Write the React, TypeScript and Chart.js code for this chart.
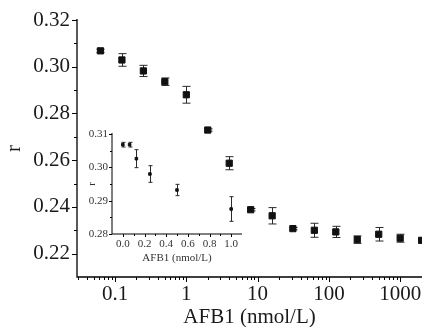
import React, { useEffect, useRef } from 'react';
import { Chart, registerables } from 'chart.js';

Chart.register(...registerables);

// ---- data ----
const concentrations = [0.0625, 0.125, 0.25, 0.5, 1, 2, 4, 8, 16, 31.25, 62.5, 125, 250, 500, 1000, 2000];
const rValues = [0.3068, 0.3029, 0.2982, 0.2936, 0.288, 0.2729, 0.2587, 0.2388, 0.2362, 0.2307, 0.23, 0.2293, 0.226, 0.2283, 0.2266, 0.2257];
const rErrors = [0.0007, 0.0027, 0.0024, 0.0016, 0.0036, 0.0005, 0.0028, 0.0005, 0.0035, 0.0005, 0.003, 0.0024, 0.0016, 0.0029, 0.0017, 0.0008];

const insetConc = [0, 0.0625, 0.125, 0.25, 0.5, 1.0];
const insetR = [0.3068, 0.3068, 0.3026, 0.298, 0.2932, 0.2875];
const insetErr = [0.0007, 0.0007, 0.0027, 0.0025, 0.0017, 0.0037];

const mainYMajor = [0.22, 0.24, 0.26, 0.28, 0.3, 0.32];
const mainYMinor = [0.23, 0.25, 0.27, 0.29, 0.31];
const mainXMajor = [0.1, 1, 10, 100, 1000];
const insetXMajor = [0, 0.2, 0.4, 0.6, 0.8, 1.0];
const insetXMinor = [0.1, 0.3, 0.5, 0.7, 0.9];
const insetYMajor = [0.28, 0.29, 0.3, 0.31];
const insetYMinor = [0.285, 0.295, 0.305];

const FONT = "'Liberation Serif', 'Times New Roman', serif";
const TEXT = '#1a1a1a';

function logMinorTicks(min: number, max: number): number[] {
  const out: number[] = [];
  for (let n = -3; n <= 4; n++) {
    for (let k = 2; k <= 9; k++) {
      const v = k * Math.pow(10, n);
      if (v > min && v < max) out.push(v);
    }
  }
  return out;
}

interface DecorCfg {
  xs: number[]; ys: number[]; errs: number[]; cap: number;
  xMajor: number[]; xMinor: number[]; yMajor: number[]; yMinor: number[];
  majorLen: number; minorLen: number; axisWidth: number;
}

function decorPlugin(id: string, cfg: DecorCfg) {
  return {
    id,
    beforeDatasetsDraw(chart: any) {
      const { ctx, scales } = chart;
      const x = scales.x, y = scales.y;
      ctx.save();
      ctx.strokeStyle = '#2a2a2a';
      ctx.lineWidth = 1;
      cfg.xs.forEach((xv, i) => {
        const px = Math.round(x.getPixelForValue(xv)) + 0.5;
        const t = y.getPixelForValue(cfg.ys[i] + cfg.errs[i]);
        const b = y.getPixelForValue(cfg.ys[i] - cfg.errs[i]);
        ctx.beginPath();
        ctx.moveTo(px, t); ctx.lineTo(px, b);
        ctx.moveTo(px - cfg.cap, t); ctx.lineTo(px + cfg.cap, t);
        ctx.moveTo(px - cfg.cap, b); ctx.lineTo(px + cfg.cap, b);
        ctx.stroke();
      });
      ctx.restore();
    },
    afterDraw(chart: any) {
      const { ctx, chartArea, scales } = chart;
      const { left, right, top, bottom } = chartArea;
      const x = scales.x, y = scales.y;
      ctx.save();
      ctx.strokeStyle = '#000';
      ctx.lineWidth = cfg.axisWidth;
      ctx.beginPath();
      ctx.moveTo(left, top - 1);
      ctx.lineTo(left, bottom);
      ctx.lineTo(right, bottom);
      ctx.stroke();
      ctx.lineWidth = 1;
      ctx.beginPath();
      const xt = (v: number, len: number) => {
        const px = Math.round(x.getPixelForValue(v)) + 0.5;
        ctx.moveTo(px, bottom); ctx.lineTo(px, bottom + len);
      };
      const yt = (v: number, len: number) => {
        const py = Math.round(y.getPixelForValue(v)) + 0.5;
        ctx.moveTo(left, py); ctx.lineTo(left - len, py);
      };
      cfg.xMajor.forEach(v => xt(v, cfg.majorLen));
      cfg.xMinor.forEach(v => xt(v, cfg.minorLen));
      cfg.yMajor.forEach(v => yt(v, cfg.majorLen));
      cfg.yMinor.forEach(v => yt(v, cfg.minorLen));
      ctx.stroke();
      ctx.restore();
    },
  };
}

const MAIN_XMIN = 0.0293;
const MAIN_XMAX = 2023;

export default function App() {
  const mainRef = useRef<HTMLCanvasElement>(null);
  const insetRef = useRef<HTMLCanvasElement>(null);

  useEffect(() => {
    document.body.style.margin = '0';
    const mainChart = new Chart(mainRef.current as HTMLCanvasElement, {
      type: 'scatter',
      data: {
        datasets: [{
          data: concentrations.map((c, i) => ({ x: c, y: rValues[i] })),
          pointStyle: 'rect',
          pointRadius: 4.4,
          backgroundColor: '#111',
          borderColor: '#111',
          borderWidth: 1,
          showLine: false,
          clip: false,
        }],
      },
      options: {
        animation: false,
        responsive: false,
        events: [],
        layout: { autoPadding: false, padding: { top: 20, right: 0, left: 0, bottom: 0 } },
        plugins: { legend: { display: false }, tooltip: { enabled: false } },
        scales: {
          x: {
            type: 'logarithmic',
            min: MAIN_XMIN,
            max: MAIN_XMAX,
            grid: { display: false, drawTicks: false },
            border: { display: false },
            ticks: {
              autoSkip: false,
              maxRotation: 0,
              padding: 5,
              color: TEXT,
              font: { family: FONT, size: 21 },
              callback: (v: any) => {
                const val = Number(v);
                const l = Math.log10(val);
                if (Math.abs(l - Math.round(l)) < 1e-6 && mainXMajor.some(m => Math.abs(m - val) / m < 1e-6)) {
                  return val >= 1 ? String(Math.round(val)) : String(Number(val.toPrecision(3)));
                }
                return '';
              },
            },
            title: {
              display: true,
              text: 'AFB1 (nmol/L)',
              color: TEXT,
              font: { family: FONT, size: 21, lineHeight: 1 },
              padding: { top: 0, bottom: -1 },
            },
            afterFit: (s: any) => { s.height = 50; s.paddingLeft = 0; s.paddingRight = 0; },
          },
          y: {
            type: 'linear',
            min: 0.21,
            max: 0.32,
            grid: { display: false, drawTicks: false },
            border: { display: false },
            ticks: {
              stepSize: 0.01,
              autoSkip: false,
              padding: 7,
              color: TEXT,
              font: { family: FONT, size: 21 },
              callback: (v: any) => {
                const n = Math.round(Number(v) * 100);
                return n % 2 === 0 && n >= 22 ? (n / 100).toFixed(2) : '';
              },
            },
            title: {
              display: true,
              text: 'r',
              color: TEXT,
              font: { family: FONT, size: 21, lineHeight: 1 },
              padding: { top: 4, bottom: 0 },
            },
            afterFit: (s: any) => { s.width = 77; s.paddingTop = 0; s.paddingBottom = 0; },
          },
        },
      },
      plugins: [decorPlugin('mainDecor', {
        xs: concentrations, ys: rValues, errs: rErrors, cap: 4,
        xMajor: mainXMajor, xMinor: logMinorTicks(MAIN_XMIN, MAIN_XMAX),
        yMajor: mainYMajor, yMinor: mainYMinor,
        majorLen: 5, minorLen: 3, axisWidth: 1.3,
      })],
    } as any);

    const insetChart = new Chart(insetRef.current as HTMLCanvasElement, {
      type: 'scatter',
      data: {
        datasets: [{
          data: insetConc.map((c, i) => ({ x: c, y: insetR[i] })),
          pointStyle: 'rect',
          pointRadius: 1.8,
          backgroundColor: '#111',
          borderColor: '#111',
          borderWidth: 1,
          showLine: false,
          clip: false,
        }],
      },
      options: {
        animation: false,
        responsive: false,
        events: [],
        layout: { autoPadding: false, padding: { top: 14, right: 18, left: 0, bottom: 0 } },
        plugins: { legend: { display: false }, tooltip: { enabled: false } },
        scales: {
          x: {
            type: 'linear',
            min: -0.1,
            max: 1.1,
            grid: { display: false, drawTicks: false },
            border: { display: false },
            ticks: {
              stepSize: 0.1,
              autoSkip: false,
              maxRotation: 0,
              padding: 4,
              color: '#333',
              font: { family: FONT, size: 11 },
              callback: (v: any) => {
                const n = Math.round(Number(v) * 10);
                return n % 2 === 0 && n >= 0 && n <= 10 ? (n / 10).toFixed(1) : '';
              },
            },
            title: {
              display: true,
              text: 'AFB1 (nmol/L)',
              color: '#333',
              font: { family: FONT, size: 11, lineHeight: 1 },
              padding: { top: 0, bottom: 6 },
            },
            afterFit: (s: any) => { s.height = 36; s.paddingLeft = 0; s.paddingRight = 0; },
          },
          y: {
            type: 'linear',
            min: 0.28,
            max: 0.31,
            grid: { display: false, drawTicks: false },
            border: { display: false },
            ticks: {
              stepSize: 0.005,
              autoSkip: false,
              padding: 4,
              color: '#333',
              font: { family: FONT, size: 11 },
              callback: (v: any) => {
                const n = Math.round(Number(v) * 1000);
                return n % 10 === 0 ? (n / 1000).toFixed(2) : '';
              },
            },
            title: {
              display: true,
              text: 'r',
              color: '#333',
              font: { family: FONT, size: 11, lineHeight: 1 },
              padding: { top: 7, bottom: 0 },
            },
            afterFit: (s: any) => { s.width = 32; s.paddingTop = 0; s.paddingBottom = 0; },
          },
        },
      },
      plugins: [decorPlugin('insetDecor', {
        xs: insetConc, ys: insetR, errs: insetErr, cap: 2,
        xMajor: insetXMajor, xMinor: insetXMinor,
        yMajor: insetYMajor, yMinor: insetYMinor,
        majorLen: 3, minorLen: 2, axisWidth: 1,
      })],
    } as any);

    return () => {
      mainChart.destroy();
      insetChart.destroy();
    };
  }, []);

  return (
    <div style={{ position: 'relative', width: 422, height: 327, background: '#fff' }}>
      <canvas ref={mainRef} width={422} height={327} style={{ position: 'absolute', left: 0, top: 0 }} />
      <canvas ref={insetRef} width={180} height={150} style={{ position: 'absolute', left: 80, top: 120 }} />
    </div>
  );
}
